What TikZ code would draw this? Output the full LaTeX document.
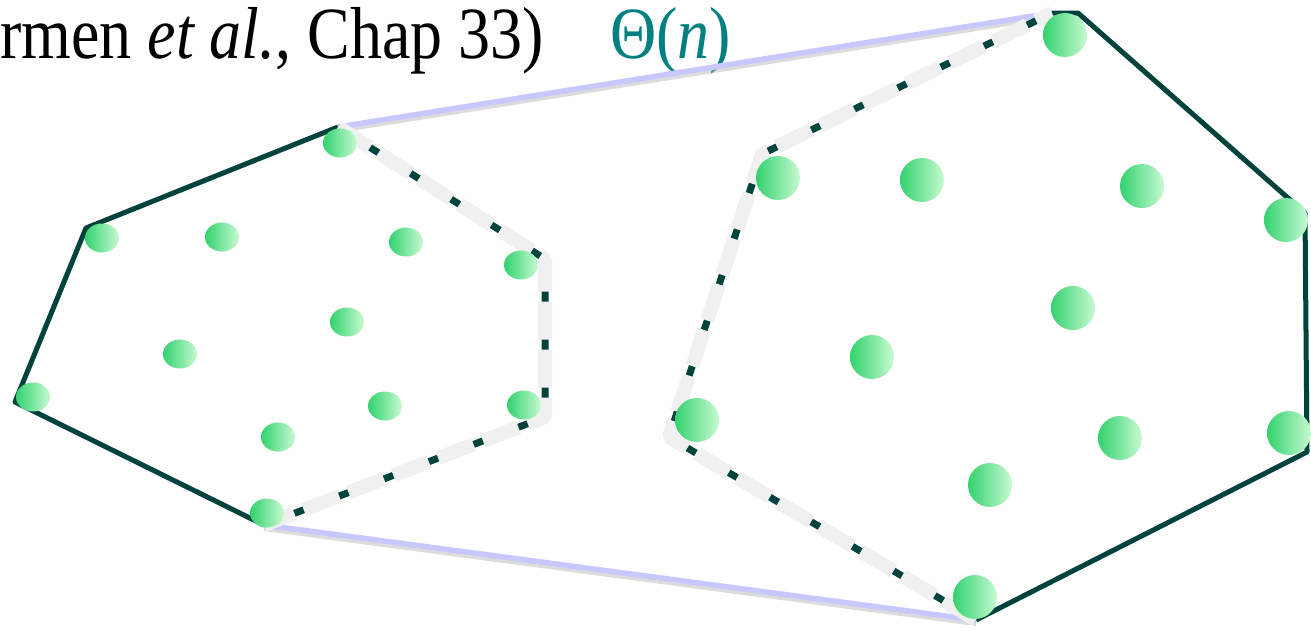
\documentclass[tikz,border=0pt]{standalone}
\usepackage{fontspec}
\setmainfont{Liberation Serif}
\usepackage{graphicx}
\usepackage{tikz}
\usetikzlibrary{shapes.geometric}
\usepackage{xcolor}
\definecolor{hullgreen}{RGB}{0,66,60}
\definecolor{cutwhite}{RGB}{240,240,240}
\definecolor{tanblue}{RGB}{200,200,255}
\definecolor{dotdark}{RGB}{50,210,110}
\definecolor{dotlight}{RGB}{200,250,210}
\definecolor{thetateal}{RGB}{0,128,128}

\begin{document}
\begin{tikzpicture}[x=1pt,y=-1pt,
  hull/.style={draw=hullgreen,line width=5pt,line join=round},
  cutunder/.style={draw=hullgreen,line width=7pt,line join=round},
  cutover/.style={draw=cutwhite,line width=14pt,line join=bevel,dash pattern=on 38pt off 10pt},
  tangent/.style={draw=tanblue,line width=5.5pt},
  tanshadow/.style={draw=black!30,line width=4pt,opacity=.45},
  ptsmall/.style={shape=ellipse,inner sep=0pt,minimum width=34pt,minimum height=29pt,left color=dotdark,right color=dotlight},
  ptbig/.style={circle,inner sep=0pt,minimum size=44pt,left color=dotdark,right color=dotlight}]
\useasboundingbox (0,0) rectangle (1311,630);

% caption
\node[anchor=base west,inner sep=0pt,font=\fontsize{64}{70}\selectfont] (cite) at (0,58) {\scalebox{1}[1.15]{rmen \textit{et al.}, Chap 33)}};
\node[anchor=base west,inner sep=0pt,font=\fontsize{64}{70}\selectfont,text=thetateal] (cost) at (610,58) {\scalebox{1}[1.15]{Θ(\textit{n})}};

% hull corners, left set
\coordinate (lt) at (338,127);
\coordinate (lu) at (86,228);
\coordinate (ll) at (15,402);
\coordinate (lb) at (264,525);
\coordinate (lr1) at (545,259);
\coordinate (lr2) at (545,417);
% hull corners, right set
\coordinate (rt) at (1052,13);
\coordinate (rt2) at (1078,13);
\coordinate (rr1) at (1305,213);
\coordinate (rr2) at (1307,452);
\coordinate (rb) at (976,620);
\coordinate (rl1) at (669,437);
\coordinate (rl2) at (762,154);

% upper and lower tangents
\draw[tanshadow] ([yshift=-4pt]lt) -- ([yshift=-4pt]rt);
\draw[tanshadow] ([yshift=-4pt]lb) -- ([yshift=-4pt]rb);
\draw[tangent] (lt) -- (rt);
\draw[tangent] (lb) -- (rb);

% kept hull edges
\draw[hull] (lb) -- (ll) -- (lu) -- (lt);
\draw[hull] (rt) -- (rt2) -- (rr1) -- (rr2) -- (rb);

% removed hull edges
\draw[cutunder] (lt) -- (lr1) -- (lr2) -- (lb);
\draw[cutover] (lt) -- (lr1) -- (lr2) -- (lb);
\draw[cutunder] (rb) -- (rl1) -- (rl2) -- (rt);
\draw[cutover] (rb) -- (rl1) -- (rl2) -- (rt);

% points
\foreach \px/\py [count=\i] in {340/143,102/238,222/237,406/242,521/265,347/322,180/354,33/397,385/406,524/405,278/437,267/513}
  \node[ptsmall] (a\i) at (\px,\py) {};
\foreach \px/\py [count=\i] in {1065/35,778/178,922/180,1142/186,1286/220,1073/308,872/357,697/420,1120/438,1289/433,990/485,975/597}
  \node[ptbig] (b\i) at (\px,\py) {};
\end{tikzpicture}
\end{document}
